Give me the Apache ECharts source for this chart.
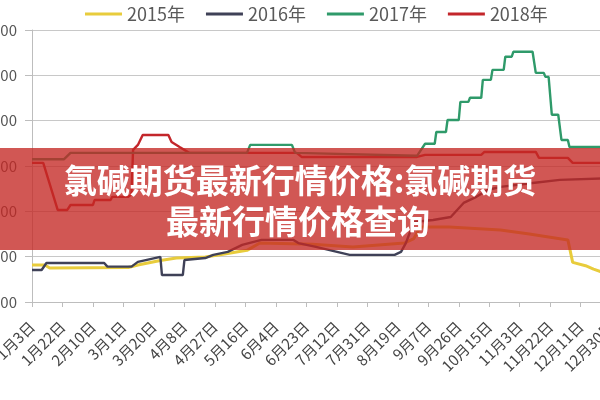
<!DOCTYPE html>
<html><head><meta charset="utf-8">
<script src="https://cdn.jsdelivr.net/npm/echarts@6/dist/echarts.min.js"></script>
<style>html,body{margin:0;padding:0;overflow:hidden;background:#fff;width:600px;height:400px}#c{width:620px;height:400px}</style>
</head><body><div id="c"></div>
<script>
const dayLabels = ['1月3日','1月22日','2月10日','3月1日','3月20日','4月8日','4月27日','5月16日','6月4日','6月23日','7月12日','7月31日','8月19日','9月7日','9月26日','10月15日','11月3日','11月22日','12月11日','12月30日'];
const seriesNames = ['2015年','2016年','2017年','2018年'];
const seriesColors = ['#e8cc3c','#3f4157','#2f9a6a','#c3262b'];
const bannerLines = ['氯碱期货最新行情价格:氯碱期货','最新行情价格查询'];
// [day offset from 1月3日, price]
const s2015 = [[0,563],[8,563],[11,550],[60,552],[66,563],[80,583],[90,594],[108,599],[120,612],[134,628],[142,660],[175,655],[200,643],[232,660],[238,680],[242,731],[260,731],[292,718],[310,700],[334,674],[337,575],[345,560],[350,545],[356,530],[364,528]];
const s2016 = [[0,541],[6,541],[9,572],[45,572],[47,556],[62,556],[66,577],[80,599],[81,519],[94,519],[95,585],[108,594],[113,608],[122,621],[131,652],[143,674],[163,674],[166,660],[177,643],[198,608],[226,608],[230,621],[233,660],[238,753],[250,762],[261,775],[269,837],[277,864],[284,894],[292,908],[312,925],[329,939],[364,947]];
const s2017 = [[0,1030],[20,1030],[24,1058],[134,1058],[136,1093],[162,1093],[164,1058],[240,1045],[245,1098],[251,1098],[252,1150],[258,1150],[259,1203],[266,1203],[267,1283],[272,1283],[273,1301],[280,1301],[281,1380],[286,1380],[287,1424],[294,1424],[295,1482],[299,1482],[300,1504],[312,1504],[314,1411],[319,1411],[320,1393],[322,1393],[324,1226],[328,1226],[330,1115],[334,1115],[335,1084],[364,1084]];
const s2018 = [[0,1014],[7,1014],[16,806],[22,806],[24,828],[38,828],[39,850],[49,850],[50,864],[60,864],[62,875],[63,1071],[66,1093],[69,1137],[85,1137],[87,1106],[92,1084],[98,1058],[165,1058],[168,1040],[240,1040],[245,1049],[280,1049],[282,1062],[314,1062],[316,1036],[334,1036],[337,1014],[364,1014]];
const allData = [s2015, s2016, s2017, s2018];

const FONT = '"Noto Sans CJK SC", sans-serif';
const chart = echarts.init(document.getElementById('c'), null, {renderer:'canvas'});
chart.setOption({
  animation:false,
  backgroundColor:'#fff',
  legend:{
    top:0, left:80, itemWidth:37, itemHeight:3, itemGap:21, icon:'rect',
    textStyle:{fontSize:18, color:'#595959', fontFamily:FONT},
    data:seriesNames
  },
  grid:{left:32, right:4, top:30, bottom:98, containLabel:false, outerBoundsMode:'none'},
  xAxis:{
    type:'value', min:0, max:364, interval:19,
    axisLine:{lineStyle:{color:'#bdbdbd', width:1}},
    axisTick:{show:true, length:5, lineStyle:{color:'#bdbdbd'}},
    splitLine:{show:false},
    axisLabel:{rotate:45, margin:22, fontSize:15, color:'#444', fontFamily:FONT,
      showMaxLabel:false, hideOverlap:false,
      formatter:function(v){ const i=v/19; return Number.isInteger(i) && dayLabels[i] ? dayLabels[i] : ''; }}
  },
  yAxis:{
    type:'value', min:400, max:1600, interval:200,
    axisLine:{show:true, lineStyle:{color:'#bdbdbd'}},
    axisTick:{show:true, length:7, lineStyle:{color:'#bdbdbd'}},
    splitLine:{lineStyle:{color:'#c8c8c8'}},
    axisLabel:{margin:15, fontSize:15, color:'#555', fontFamily:FONT, formatter:function(v){return String(v);}}
  },
  series: seriesNames.map((n,i)=>({
    name:n, type:'line', data:allData[i], showSymbol:false, symbol:'none',
    lineStyle:{color:seriesColors[i], width: i===0?3:2.4},
    itemStyle:{color:seriesColors[i]}, z: i===2?5:3
  })),
  graphic:[
    {type:'rect', z:100, shape:{x:0,y:148,width:620,height:102}, style:{fill:'rgba(196,40,36,0.78)'}},
    {type:'text', z:101, style:{text:bannerLines[0], x:300, y:180, textAlign:'center', textVerticalAlign:'middle', font:'bold 33px '+FONT, fill:'#fff'}},
    {type:'text', z:101, style:{text:bannerLines[1], x:298, y:221, textAlign:'center', textVerticalAlign:'middle', font:'bold 33px '+FONT, fill:'#fff'}}
  ]
});
</script></body></html>
